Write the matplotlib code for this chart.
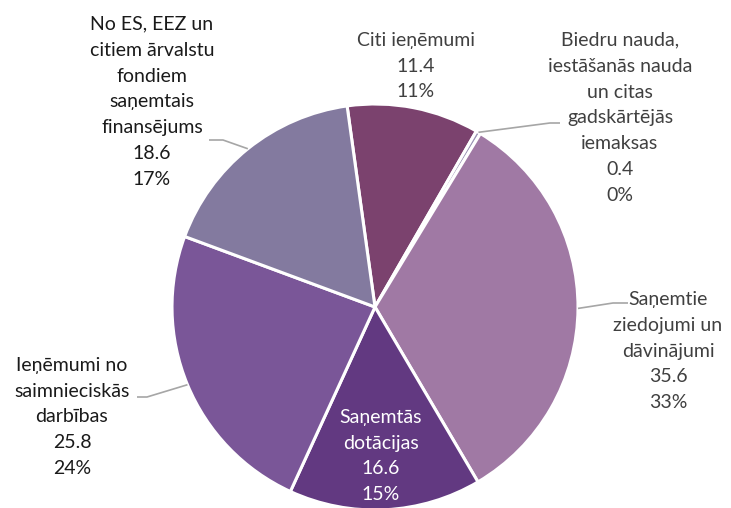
import numpy as np
import matplotlib
matplotlib.use("Agg")
from matplotlib import pyplot as plt

# slices in clockwise order, starting just left of 12 o'clock
labels = ["Citi ieņēmumi",
          "Biedru nauda,\niestāšanās nauda\nun citas\ngadskārtējās\niemaksas",
          "Saņemtie\nziedojumi un\ndāvinājumi",
          "Saņemtās\ndotācijas",
          "Ieņēmumi no\nsaimnieciskās\ndarbības",
          "No ES, EEZ un\ncitiem ārvalstu\nfondiem\nsaņemtais\nfinansējums"]
values = [11.4, 0.4, 35.6, 16.6, 25.8, 18.6]
colors = ["#7B426E", "#9A93B4", "#A079A4", "#623981", "#7A5698", "#837A9F"]

W, H = 731, 508
fig = plt.figure(figsize=(W / 100, H / 100), dpi=100)
ax = fig.add_axes([0, 0, 1, 1])

cx, cy, r = 375, H - 307, 203
wedges, _ = ax.pie(values, colors=colors, startangle=97.9, counterclock=False,
                   center=(cx, cy), radius=r, frame=True,
                   wedgeprops=dict(edgecolor="white", linewidth=2.2))
ax.set_xlim(0, W)
ax.set_ylim(0, H)
ax.set_aspect("equal")
ax.set_axis_off()

total = sum(values)
texts = [f"{lab}\n{v}\n{round(v / total * 100)}%" for lab, v in zip(labels, values)]

# label centre (pixel coords from top-left), colour, and elbow of leader line
label_pos = [(416, 66), (620, 118), (668, 351), (381, 456), (72, 417), (152, 102)]
label_col = ["#404040", "#404040", "#404040", "white", "#1a1a1a", "#1a1a1a"]
elbows = [None, [(550, 123), (560, 123)], [(613, 303), (628, 303)], None,
          [(147, 397), (137, 397)], [(223, 140), (209, 140)]]

for w, txt, (lx, ly), col, elb in zip(wedges, texts, label_pos, label_col, elbows):
    ax.text(lx, H - ly, txt, ha="center", va="center", color=col,
            fontsize=14, family="Lato", linespacing=1.64)
    if elb is not None:
        mid = np.deg2rad((w.theta1 + w.theta2) / 2)
        px, py = cx + r * np.cos(mid), cy + r * np.sin(mid)
        xs = [px] + [e[0] for e in elb]
        ys = [py] + [H - e[1] for e in elb]
        ax.plot(xs, ys, color="#A6A6A6", lw=1.2, solid_capstyle="butt")

fig.savefig("out.png", dpi=100)
